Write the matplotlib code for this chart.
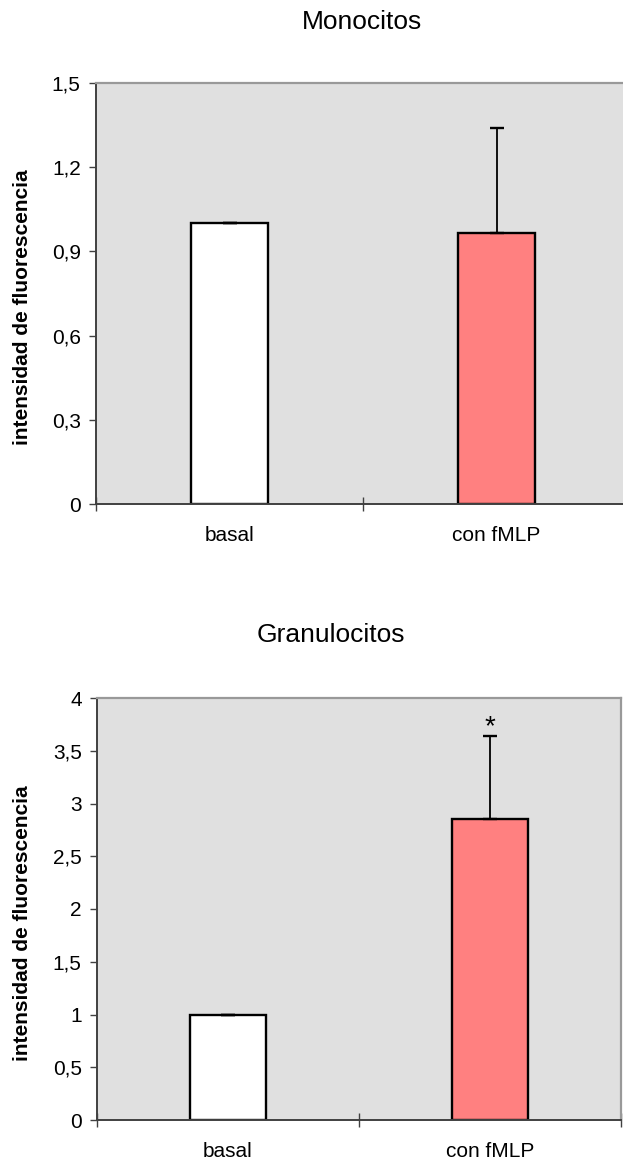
import matplotlib
matplotlib.use('Agg')
from matplotlib import pyplot as plt
import numpy as np

plt.rcParams['font.family'] = ['Liberation Sans', 'DejaVu Sans']

categories = ['basal', 'con fMLP']
mono_vals = [1.0, 0.966]
mono_err = [0.0, 0.374]
gran_vals = [1.0, 2.85]
gran_err = [0.0, 0.79]

mono_ticks = [0, 0.3, 0.6, 0.9, 1.2, 1.5]
mono_ticklabels = ['0', '0,3', '0,6', '0,9', '1,2', '1,5']
gran_ticks = [0, 0.5, 1, 1.5, 2, 2.5, 3, 3.5, 4]
gran_ticklabels = ['0', '0,5', '1', '1,5', '2', '2,5', '3', '3,5', '4']

bar_colors = ['white', '#FF8080']
W = 623.0
H = 1164.0

fig = plt.figure(figsize=(6.23, 11.64), dpi=100)

#axes boxes in pixels: left, top, right, bottom
ax1 = fig.add_axes([96/W, 1-504/H, (630-96)/W, 421/H])
ax2 = fig.add_axes([97/W, 1-1120/H, 524/W, 422/H])


def draw_panel(ax, vals, err, ticks, ticklabels, ymax):
    x = np.arange(len(categories))
    ax.set_facecolor('#E0E0E0')
    ax.bar(x, vals, width=0.29, color=bar_colors, edgecolor='black', linewidth=1.7, zorder=2)
    lower = np.zeros(len(err))
    ax.errorbar(x, vals, yerr=[lower, err], fmt='none', ecolor='black',
                elinewidth=1.3, capsize=5.0, capthick=1.7, zorder=3)
    ax.set_xlim(-0.5, 1.5)
    ax.set_ylim(0, ymax)
    ax.set_yticks(ticks)
    ax.set_yticklabels(ticklabels)
    ax.set_xticks([-0.5, 0.5, 1.5])
    ax.set_xticklabels(['', '', ''])
    ax.set_xticks(x, minor=True)
    ax.set_xticklabels(categories, minor=True)
    ax.tick_params(axis='x', which='major', direction='inout', length=10, width=1.0, color='#404040')
    ax.tick_params(axis='x', which='minor', length=0, pad=16, labelsize=15)
    ax.tick_params(axis='y', direction='out', length=5, width=1.0, color='#404040', pad=6, labelsize=15)
    for s in ['left', 'bottom']:
        ax.spines[s].set_color('#404040')
        ax.spines[s].set_linewidth(1.4)
    for s in ['top', 'right']:
        ax.spines[s].set_color('#999999')
        ax.spines[s].set_linewidth(1.6)


draw_panel(ax1, mono_vals, mono_err, mono_ticks, mono_ticklabels, 1.5)
draw_panel(ax2, gran_vals, gran_err, gran_ticks, gran_ticklabels, 4)

# significance mark
ax2.annotate('*', xy=(1, gran_vals[1] + gran_err[1]), xytext=(0, -3), textcoords='offset points',
             ha='center', va='bottom', fontsize=20)

fig.text(362/W, 1-22/H, 'Monocitos', ha='center', va='center', fontsize=19)
fig.text(331/W, 1-635/H, 'Granulocitos', ha='center', va='center', fontsize=19)

fig.text(23/W, 1-307/H, 'intensidad de fluorescencia', rotation=90, ha='center', va='center',
         fontsize=15, fontweight='bold')
fig.text(23/W, 1-923/H, 'intensidad de fluorescencia', rotation=90, ha='center', va='center',
         fontsize=15, fontweight='bold')

fig.savefig('out.png', dpi=100)
